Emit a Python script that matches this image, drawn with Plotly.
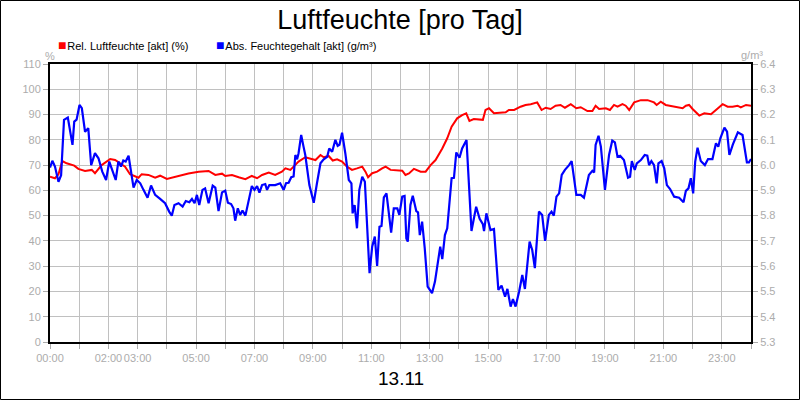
import plotly.graph_objects as go

# Rel. Luftfeuchte (%), Stunde des Tages
rel_hours = [0, 0.17, 0.29, 0.42, 0.57, 0.83, 0.97, 1.2, 1.43, 1.54, 1.77, 2.06, 2.23, 2.4, 2.57, 2.74,
             3.03, 3.14, 3.37, 3.6, 3.77, 4.0, 4.29, 4.51, 4.74, 5.09, 5.43, 5.66, 5.89,
             6.0, 6.23, 6.46, 6.69, 6.91, 7.09, 7.26, 7.49, 7.71, 7.94, 8.06, 8.23, 8.34, 8.51, 8.74, 8.91,
             9.09, 9.26, 9.37, 9.54, 9.68, 9.83, 10.0, 10.17, 10.34, 10.51, 10.69, 10.8, 10.89, 11.03, 11.2,
             11.37, 11.49, 11.66, 11.89, 12.06,
             12.17, 12.29, 12.46, 12.69, 12.86, 13.03, 13.2, 13.43, 13.6, 13.75, 13.94, 14.11, 14.25, 14.36,
             14.51, 14.68, 14.82, 14.91, 15.03, 15.2, 15.49, 15.6, 15.71, 15.89, 16.11, 16.28, 16.46, 16.68,
             16.83, 16.97, 17.14, 17.31, 17.48, 17.63, 17.83, 18.02, 18.17, 18.34, 18.4,
             18.57, 18.68, 18.8, 19.03, 19.17, 19.31, 19.43, 19.6, 19.71, 19.83, 20.0, 20.23, 20.46, 20.68,
             20.77, 20.91, 21.08, 21.25, 21.48, 21.66, 21.77, 21.88, 22.0, 22.11, 22.23, 22.4, 22.63, 22.76,
             22.86, 23.03, 23.2, 23.37, 23.54, 23.65, 23.83, 24.0]
rel_values = [65.4, 64.8, 66.4, 71.6, 70.7, 69.8, 68.5, 67.7, 68.1, 66.8, 70.0, 72.4, 72.0, 70.7, 69.4, 66.4,
              65.0, 66.4, 66.1, 65.0, 65.8, 64.5, 65.4, 65.8, 66.7, 67.4, 67.7, 66.1, 66.6,
              65.7, 66.1, 65.2, 64.4, 65.7, 64.8, 66.1, 67.0, 66.1, 67.4, 68.7, 68.1, 69.4, 71.4, 73.1, 72.7,
              72.0, 74.0, 73.1, 73.6, 71.8, 72.3, 71.4, 69.4, 68.1, 68.7, 69.4, 67.4, 65.2, 66.8, 67.4,
              68.7, 69.4, 68.1, 67.8, 67.8,
              66.1, 66.7, 68.5, 67.4, 67.4, 70.0, 72.0, 76.6, 80.6, 85.2, 88.5, 89.8, 90.5, 87.5,
              88.2, 87.9, 87.9, 91.8, 92.5, 90.5, 90.9, 90.9, 91.8, 91.8, 93.1, 93.8, 94.1, 94.8,
              91.8, 92.7, 92.2, 93.5, 93.8, 92.7, 94.1, 92.5, 92.9, 91.8, 91.4,
              91.4, 93.5, 92.2, 92.5, 91.8, 93.8, 93.1, 94.1, 93.5, 91.8, 94.8, 95.7, 95.7, 94.8,
              93.8, 95.1, 93.8, 93.5, 93.1, 92.5, 93.5, 93.8, 92.2, 90.9, 89.6, 90.5, 90.1, 91.4,
              92.5, 94.1, 93.1, 93.1, 93.5, 92.8, 93.8, 93.5]

# Abs. Feuchtegehalt (g/m³)
abs_hours = [0, 0.08, 0.17, 0.29, 0.38, 0.48, 0.61, 0.69, 0.77, 0.83, 0.91, 1.01, 1.09, 1.2, 1.31, 1.41,
             1.54, 1.66, 1.79, 1.92, 2.03, 2.11, 2.25, 2.34, 2.43, 2.51, 2.59, 2.69, 2.78, 2.86, 2.97,
             3.09, 3.2, 3.34, 3.46, 3.6, 3.77, 3.94, 4.08, 4.17, 4.26, 4.4, 4.54, 4.65, 4.77, 4.86, 4.95,
             5.03, 5.11, 5.22, 5.31, 5.43, 5.57, 5.66, 5.77, 5.89,
             6.0, 6.09, 6.2, 6.28, 6.34, 6.43, 6.51, 6.59, 6.69, 6.8, 6.91, 7.0, 7.09, 7.17, 7.26, 7.37,
             7.43, 7.51, 7.71, 7.88, 8.0, 8.08, 8.17, 8.26, 8.34, 8.4, 8.46, 8.51, 8.6, 8.68, 8.74, 8.88,
             9.03, 9.14, 9.26, 9.37, 9.49, 9.56, 9.66, 9.77, 9.85, 9.91, 10.0, 10.11, 10.23, 10.32, 10.36,
             10.43, 10.51, 10.59, 10.69, 10.78, 10.86, 10.94, 11.03, 11.12, 11.2, 11.28, 11.35, 11.43,
             11.52, 11.6, 11.68, 11.77, 11.89, 11.96, 12.06, 12.14, 12.2, 12.25,
             12.34, 12.42, 12.54, 12.6, 12.66, 12.74, 12.83, 12.93, 13.08, 13.18, 13.29, 13.36, 13.43,
             13.52, 13.6, 13.75, 13.83, 13.91, 14.02, 14.11, 14.26, 14.36, 14.43, 14.59, 14.71, 14.82,
             14.86, 14.94, 15.08, 15.2, 15.26, 15.35, 15.46, 15.58, 15.66, 15.77, 15.85, 15.94, 16.06,
             16.17, 16.26, 16.42, 16.51, 16.6, 16.74, 16.85, 16.95, 17.08, 17.17, 17.25, 17.34, 17.43,
             17.52, 17.63, 17.77, 17.86, 18.02,
             18.17, 18.28, 18.45, 18.57, 18.63, 18.68, 18.78, 18.86, 19.0, 19.14, 19.25, 19.34, 19.43,
             19.52, 19.65, 19.79, 19.86, 19.92, 20.02, 20.09, 20.23, 20.36, 20.45, 20.51, 20.59, 20.68,
             20.77, 20.83, 20.94, 21.03, 21.12, 21.23, 21.37, 21.54, 21.69, 21.77, 21.86, 21.94, 22.02,
             22.09, 22.17, 22.28, 22.42, 22.53, 22.68, 22.8, 22.88, 22.95, 23.09, 23.18, 23.26, 23.38,
             23.55, 23.71, 23.79, 23.86, 23.93, 24.0]
abs_values = [5.990, 6.017, 5.994, 5.934, 5.960, 6.179, 6.188, 6.132, 6.080, 6.172, 6.180, 6.238, 6.225, 6.132, 6.146, 6.000,
              6.047, 6.027, 5.974, 5.941, 6.014, 5.987, 5.941, 6.014, 5.994, 6.018, 6.014, 6.037, 5.974, 5.911, 5.941,
              5.928, 5.902, 5.871, 5.919, 5.882, 5.866, 5.849, 5.816, 5.800, 5.842, 5.849, 5.836, 5.858, 5.853, 5.866, 5.849,
              5.882, 5.842, 5.902, 5.908, 5.849, 5.919, 5.911, 5.818, 5.892,
              5.899, 5.851, 5.846, 5.829, 5.780, 5.829, 5.803, 5.820, 5.800, 5.862, 5.917, 5.902, 5.917, 5.891, 5.921, 5.925,
              5.902, 5.921, 5.921, 5.928, 5.902, 5.928, 5.930, 5.952, 5.955, 6.040, 6.023, 6.047, 6.119, 6.073, 6.040, 5.921,
              5.851, 5.928, 6.007, 6.023, 6.033, 6.066, 6.053, 6.100, 6.076, 6.080, 6.128, 6.047, 5.941, 5.928, 5.809,
              5.842, 5.750, 5.902, 5.954, 5.934, 5.723, 5.572, 5.677, 5.717, 5.601, 5.756, 5.759, 5.872,
              5.888, 5.796, 5.733, 5.829, 5.829, 5.803, 5.875, 5.878, 5.710, 5.697,
              5.842, 5.879, 5.818, 5.813, 5.723, 5.776, 5.671, 5.519, 5.493, 5.539, 5.631, 5.677, 5.628,
              5.723, 5.750, 5.948, 5.950, 6.050, 6.029, 6.066, 6.099, 5.855, 5.739, 5.835, 5.787, 5.766,
              5.739, 5.809, 5.743, 5.747, 5.657, 5.506, 5.523, 5.479, 5.510, 5.440, 5.470, 5.440, 5.499,
              5.565, 5.510, 5.697, 5.664, 5.592, 5.816, 5.803, 5.700, 5.803, 5.816, 5.800, 5.875, 5.888,
              5.961, 5.981, 6.000, 6.016, 5.882,
              5.882, 5.871, 5.961, 5.977, 5.971, 6.080, 6.116, 6.073, 5.902, 6.040, 6.097, 6.090, 6.033,
              6.037, 6.020, 5.950, 5.954, 6.016, 5.981, 6.007, 6.020, 6.040, 6.037, 6.000, 6.016, 6.000,
              5.928, 6.007, 6.016, 5.987, 5.921, 5.905, 5.875, 5.871, 5.853, 5.898, 5.908, 5.948, 5.888,
              6.014, 6.069, 6.016, 6.000, 6.024, 6.024, 6.086, 6.073, 6.106, 6.148, 6.132, 6.040, 6.082,
              6.130, 6.119, 6.060, 6.011, 6.011, 6.024]

hour_ticks = list(range(25))
hour_labels = ["00:00", "", "02:00", "03:00", "", "05:00", "", "07:00", "", "09:00", "", "11:00", "",
               "13:00", "", "15:00", "", "17:00", "", "19:00", "", "21:00", "", "23:00", ""]

assert len(rel_hours) == len(rel_values)
assert len(abs_hours) == len(abs_values)

FONT = "Liberation Sans, Arial, sans-serif"
GRID = "#c0c0c0"
TICKCOL = "#acacac"

fig = go.Figure()

fig.add_trace(go.Scatter(x=rel_hours, y=rel_values, mode="lines", name="Rel. Luftfeuchte [akt] (%)",
                         line=dict(color="#ff0000", width=2), hoverinfo="skip"))
fig.add_trace(go.Scatter(x=abs_hours, y=abs_values, mode="lines", yaxis="y2",
                         name="Abs. Feuchtegehalt [akt] (g/m³)",
                         line=dict(color="#0000ff", width=2.2), hoverinfo="skip"))

axis_common = dict(showgrid=True, gridcolor=GRID, gridwidth=1, zeroline=False,
                   ticks="outside", ticklen=5, tickcolor=TICKCOL, automargin=False,
                   showline=True, linecolor="black", linewidth=2,
                   tickfont=dict(family=FONT, size=11, color=TICKCOL))

fig.update_layout(
    width=800, height=400,
    margin=dict(l=50, r=49, t=64, b=58),
    paper_bgcolor="white", plot_bgcolor="white",
    font=dict(family=FONT, size=11, color=TICKCOL),
    showlegend=False,
    title=dict(text="Luftfeuchte [pro Tag]", x=0.5, xanchor="center", y=0.95, yanchor="middle",
               yref="container", font=dict(family=FONT, size=27, color="black")),
    xaxis=dict(range=[0, 24], tickmode="array", tickvals=hour_ticks, ticktext=hour_labels,
               tickangle=0, mirror=True, **axis_common),
    yaxis=dict(range=[0, 110], dtick=10, tick0=0, mirror=True, **axis_common),
    yaxis2=dict(range=[5.3, 6.4], dtick=0.1, tick0=5.3, tickformat=".1f", overlaying="y", side="right",
                **{**axis_common, "showgrid": False}),
)

# legend row (square symbol + label) like the original chart
legend_items = [("Rel. Luftfeuchte [akt] (%)", "#ff0000", 56), ("Abs. Feuchtegehalt [akt] (g/m³)", "#0000ff", 214)]
for label, color, px_left in legend_items:
    fig.add_annotation(text=f'<span style="color:{color};font-size:14px">■</span><span style="font-size:3px"> </span>{label}',
                       xref="paper", yref="paper", x=(px_left - 50) / 701, y=(342 - 45) / 278,
                       xanchor="left", yanchor="middle", showarrow=False,
                       font=dict(family=FONT, size=11, color="black"))

fig.add_annotation(text="%", xref="paper", yref="paper", x=(43 - 50) / 701, y=(342 - 48) / 278,
                   showarrow=False, font=dict(family=FONT, size=11, color=TICKCOL))
fig.add_annotation(text="g/m³", xref="paper", yref="paper", x=(765 - 50) / 701, y=(342 - 47) / 278,
                   showarrow=False, font=dict(family=FONT, size=11, color=TICKCOL))
fig.add_annotation(text="13.11", xref="paper", yref="paper", x=0.5, y=(342 - 378) / 278, yanchor="middle",
                   showarrow=False, font=dict(family=FONT, size=19, color="black"))

# frame around the whole picture
fig.add_shape(type="rect", xref="paper", yref="paper",
              x0=-49.5 / 701, x1=749.5 / 701, y0=-57.5 / 278, y1=341.5 / 278,
              line=dict(color="black", width=1), fillcolor="rgba(0,0,0,0)", layer="above")

# the page body has a default 8px margin; drop it so the chart sits at the window corner
fig.write_html("out.html", config={"displayModeBar": False},
               post_script="document.body.style.margin='0';")
